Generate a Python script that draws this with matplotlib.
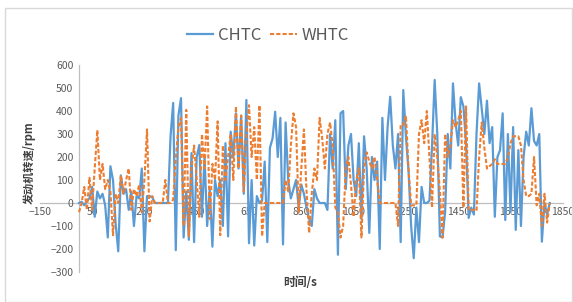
import numpy as np
import matplotlib
matplotlib.use('Agg')
import matplotlib.pyplot as plt
from matplotlib.patches import Rectangle

plt.rcParams['font.family'] = ['Noto Sans CJK SC', 'DejaVu Sans']

# engine speed, one value every 10 s (0 ... 1800 s)
chtc = [
    0, 5, -10, 10, 20, 70, -60, 50, 20, 40,
    -10, -150, 160, 100, -90, -210, 120, 40, 60, -30,
    50, -100, 30, 20, 150, -210, 30, 30, 25, 0,
    0, 0, 0, 0, 0, 290, 435, -205, 380, 456,
    -150, 50, -160, 217, -170, 200, 252, -60, 200, -100,
    60, -190, 100, 30, 100, -100, 260, -145, 310, 200,
    390, 150, 380, 40, 448, -175, 100, -185, 30, 0,
    10, 180, -170, 240, 280, 397, 200, 370, -180, 350,
    100, 20, 60, 100, -20, 80, 40, -20, -70, -100,
    60, 20, 0, 0, 0, -30, 300, 150, 360, -225,
    390, 400, 60, 250, 300, 100, 30, 260, -70, 290,
    150, -130, 200, 100, 180, -200, 370, 100, 330, 462,
    250, 150, 300, -170, 491, 290, 140, -100, -240, -20,
    -170, 70, 0, 0, 10, 250, 535, 300, -145, -150,
    -40, 300, 150, 520, 350, 250, 460, 420, 260, -65,
    -20, -50, 300, 520, 410, 300, 445, 260, 330, -60,
    200, 230, 390, -74, 300, -40, 330, -117, 230, -100,
    200, 310, 250, 412, 270, 250, 300, -168, 0, -50,
    0,
]
whtc = [
    -40, 0, 70, -30, 110, -30, 150, 317, 100, 170,
    60, 100, 50, -140, 40, 0, 120, 40, 100, 150,
    -30, 60, 30, 80, -40, 100, 320, -80, 30, 0,
    0, 0, 0, 100, 0, 0, 15, 190, 330, 370,
    -100, 405, -145, 150, 250, 100, -60, 300, 150, 420,
    -70, 170, 100, 355, -140, 250, 100, 200, 300, 100,
    420, 150, 380, 50, 300, 425, 200, 330, 100, 425,
    -145, 0, 0, 0, 0, 0, 0, 0, 0, 100,
    50, 250, 390, 330, -40, 150, 320, 50, -130, 40,
    150, 100, 370, 280, 150, 300, 350, 250, -20, -40,
    -150, -100, 150, 200, 80, -60, 100, 150, -150, 150,
    220, 180, 150, 200, 100, 0, 0, 0, 0, 0,
    0, 0, -100, 340, 340, 380, 150, -10, -10, -10,
    300, 360, 260, 400, 200, -20, 300, 200, 50, -150,
    300, 200, 250, 360, 330, 360, 400, -20, 420, -30,
    -30, -30, -35, 200, 350, 240, 150, 160, 170, 190,
    170, 170, 170, 170, 200, 260, 290, 290, 290, 250,
    100, 30, 30, 40, 200, -10, 40, -100, 40, -85,
    0,
]
t_chtc = np.arange(len(chtc)) * 10
t_whtc = np.arange(len(whtc)) * 10

x_ticks = np.arange(-150, 1851, 200)
y_ticks = np.arange(-300, 601, 100)

fig = plt.figure(figsize=(5.73, 3.02), dpi=100)
fig.patches.append(Rectangle((5 / 573, 0), 567 / 573, 1 - 8 / 302,
                             transform=fig.transFigure, fill=False,
                             edgecolor='#d9d9d9', lw=1))
ax = fig.add_axes([39.8 / 573, 30 / 302, 523 / 573, 207 / 302])

ax.plot(t_chtc, chtc, color='#5B9BD5', lw=1.6, label='CHTC')
ax.plot(t_whtc, whtc, color='#ED7D31', lw=1.5, ls=(0, (2, 1)), label='WHTC')

ax.set_xlim(-150, 1850)
ax.set_ylim(-300, 600)
ax.set_xticks(x_ticks)
ax.set_yticks(y_ticks)
ax.spines['left'].set_position(('data', 0))
ax.spines['bottom'].set_position(('data', 0))
for s in ('top', 'right'):
    ax.spines[s].set_visible(False)
for s in ('left', 'bottom'):
    ax.spines[s].set_color('#bfbfbf')
    ax.spines[s].set_linewidth(0.9)
    ax.spines[s].set_zorder(0.5)
ax.tick_params(length=0, labelsize=7.5, labelcolor='#595959', pad=4)
ax.tick_params(axis='x', pad=3)

fig.text(29 / 573, 1 - 163 / 302, '发动机转速/rpm', rotation=90, ha='center',
         va='center', fontsize=8, fontweight='bold', color='#404040')
fig.text(300 / 573, 1 - 282 / 302, '时间/s', ha='center', va='center',
         fontsize=8.5, fontweight='bold', color='#404040')

fig.legend(loc='center', bbox_to_anchor=(268 / 573, 1 - 35 / 302), ncol=2,
           frameon=False, fontsize=12, handlelength=1.6, handletextpad=0.3,
           columnspacing=0.5, labelcolor='#595959')

fig.savefig('out.png', dpi=100)
